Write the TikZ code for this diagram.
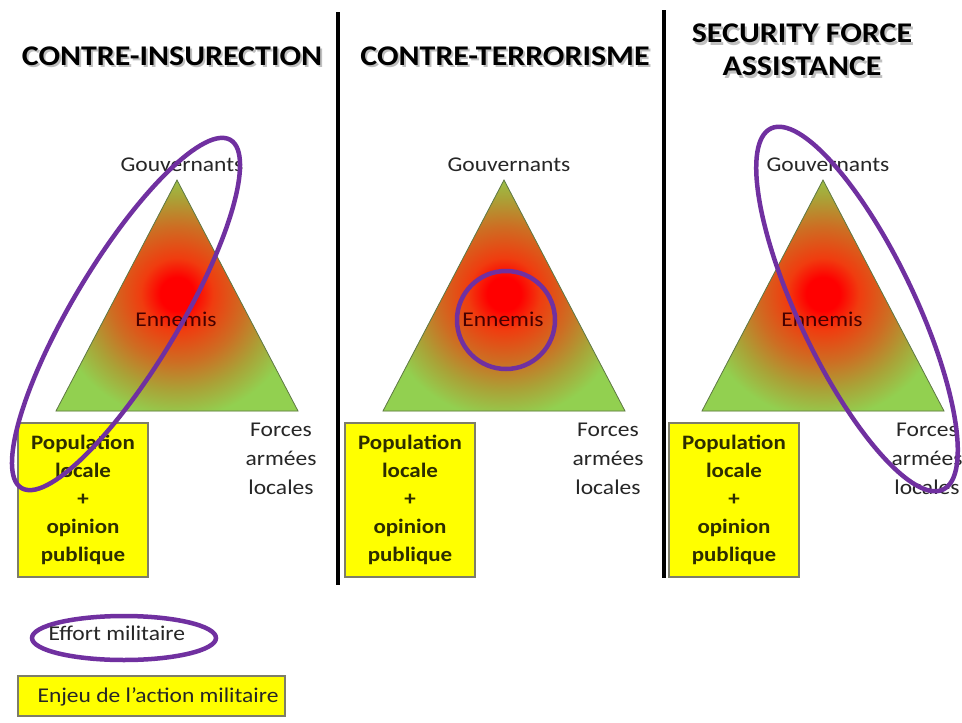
\documentclass[tikz,border=0pt]{standalone}
\usepackage{fontspec}
\setmainfont{Carlito}[FakeStretch=1.12]
\definecolor{leafgreen}{RGB}{146,208,80}
\definecolor{rimgreen}{RGB}{95,120,70}
\definecolor{glowred}{RGB}{255,0,0}
\definecolor{glowmid}{RGB}{240,60,15}
\definecolor{glowbrown}{RGB}{205,110,35}
\definecolor{glowolive}{RGB}{170,162,55}
\definecolor{effort}{RGB}{112,48,160}
\definecolor{enjeu}{RGB}{255,255,0}
\definecolor{enjeurim}{RGB}{125,125,105}
\definecolor{enemytext}{RGB}{70,0,0}
\definecolor{boxtext}{RGB}{45,45,0}
\pgfdeclareradialshading{ennemisglow}{\pgfpoint{0bp}{0bp}}{%
  color(0bp)=(glowred); color(2.1bp)=(glowred); color(4.5bp)=(glowmid);
  color(8.5bp)=(glowbrown); color(12bp)=(glowolive); color(15.5bp)=(leafgreen);
  color(50bp)=(leafgreen)}
\tikzset{
  title/.style={font=\fontsize{28.5}{33}\selectfont\bfseries, align=center},
  titleshade/.style={title, text=black!55, opacity=0.45},
  vertex/.style={font=\fontsize{21}{29}\selectfont, align=center, text=black!85},
  enjeubox/.style={draw=enjeurim, line width=1.2pt, fill=enjeu, text=boxtext,
    font=\fontsize{20.5}{28}\selectfont\bfseries, align=center, inner sep=0pt},
  effortline/.style={draw=effort, line width=4.5pt},
}
\begin{document}
\begin{tikzpicture}[x=1pt,y=-1pt]
\useasboundingbox (0,0) rectangle (962,723);
\fill[white] (0,0) rectangle (962,723);
\node[titleshade] (coin-shade) at (174,58.5) {CONTRE-INSURECTION};
\node[titleshade] (ct-shade) at (507,58.5) {CONTRE-TERRORISME};
\node[titleshade] (sfa-shade) at (804,52.5) {SECURITY FORCE\\ASSISTANCE};
\node[title] (coin) at (172,56) {CONTRE-INSURECTION};
\node[title] (ct) at (505,56) {CONTRE-TERRORISME};
\node[title] (sfa) at (802,50) {SECURITY FORCE\\ASSISTANCE};
\draw[line width=4pt] (338,12) -- (338,585);
\draw[line width=4pt] (664,10) -- (664,578);
\foreach \dx/\bx/\p in {0/83/a,327/410/b,646/734/c}{
  \begin{scope}[xshift=\dx pt]
    \fill[leafgreen] (177,180) -- (56,411) -- (298,411) -- cycle;
    \begin{scope}
      \clip (177,180) -- (56,411) -- (298,411) -- cycle;
      \shade[shading=ennemisglow] (177,294) circle (200);
    \end{scope}
    \draw[rimgreen, line width=0.8pt] (177,180) -- (56,411) -- (298,411) -- cycle;
    \node[vertex] (gouv-\p) at (182,165) {Gouvernants};
    \node[vertex, text=enemytext] (enn-\p) at (176,319) {Ennemis};
    \node[vertex] (forces-\p) at (281,459) {Forces\\armées\\locales};
  \end{scope}
  \node[enjeubox, minimum width=130pt, minimum height=154pt] (pop-\p) at (\bx,500)
    {Population\\locale\\+\\opinion\\publique};
}
\draw[effortline, rotate around={59:(126,314)}] (126,314) ellipse [x radius=203, y radius=53];
\draw[effortline] (506,320) circle (49);
\draw[effortline, rotate around={-64.5:(857,309)}] (857,309) ellipse [x radius=200, y radius=58];
\draw[effortline] (124,638) ellipse [x radius=92, y radius=22];
\node[vertex, anchor=west] (effort-key) at (45,633) {Effort militaire};
\node[enjeubox, minimum width=267pt, minimum height=40pt] (enjeu-key) at (151.5,696) {};
\node[vertex, anchor=west] (enjeu-text) at (34,697) {Enjeu de l’action militaire};
\end{tikzpicture}
\end{document}
